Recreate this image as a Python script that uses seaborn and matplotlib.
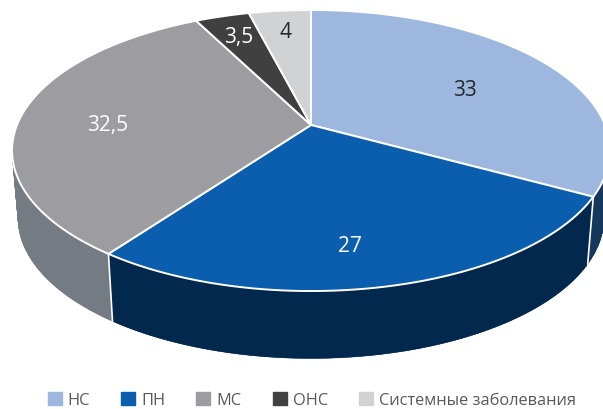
import numpy as np
import matplotlib.pyplot as plt
import seaborn as sns
from matplotlib.collections import PolyCollection
from matplotlib.patches import Patch

# данные
categories = ['НС', 'ПН', 'МС', 'ОНС', 'Системные заболевания']
values = [33, 27, 32.5, 3.5, 4]
value_labels = ['33', '27', '32,5', '3,5', '4']

top_colors = ['#9DB7DF', '#0A5EAD', '#9D9DA1', '#404040', '#D1D2D3']
side_colors = ['#15385C', '#02284E', '#747B82', '#2B2B2B', '#8C8D8E']
label_colors = ['#262626', 'white', 'white', 'white', '#262626']
label_pos = [(465, 90), (350, 247), (108, 125), (239, 38), (285, 33)]

sns.set_theme(style='white')
plt.rcParams['font.family'] = ['Open Sans', 'DejaVu Sans']

fig, ax = plt.subplots(figsize=(6.03, 4.10), dpi=100)
ax.set_position([0, 0, 1, 1])
ax.set_xlim(0, 603)
ax.set_ylim(410, 0)
ax.axis('off')


# круг в перспективе: угол по часовой от верха -> пиксели
def project(a, dy=0.0, scale=1.0):
    u, v = np.sin(a), np.cos(a)
    w = 1 + 0.1815 * v
    return 311 + 294 * scale * u / w, 126 + dy - 135.9 * v / w


edges = np.radians(np.r_[0, np.cumsum(values)] * 3.6)
DY, SC = 67.4, 0.98

# боковая стенка
for i in range(len(values)):
    t = np.linspace(edges[i], edges[i + 1], 120)
    x1, y1 = project(t)
    x2, y2 = project(t, DY, SC)
    ax.fill(np.r_[x1, x2[::-1]], np.r_[y1, y2[::-1]], color=side_colors[i], lw=0)
    quads = [[(x1[j], y1[j]), (x1[j + 1], y1[j + 1]), (x2[j + 1], y2[j + 1]), (x2[j], y2[j])]
             for j in range(len(t) - 1)]
    ax.add_collection(PolyCollection(quads, facecolors=side_colors[i],
                                     edgecolors=side_colors[i], linewidths=0.3))

# белые разделители стенок
for a in edges[1:3]:
    x1, y1 = project(a)
    x2, y2 = project(a, DY, SC)
    ax.plot([x1, x2], [y1, y2], color='white', lw=1.2, zorder=3)

# верхняя грань
for i in range(len(values)):
    t = np.linspace(edges[i], edges[i + 1], 120)
    x, y = project(t)
    ax.fill(np.r_[311, x], np.r_[126, y], color=top_colors[i], ec='white', lw=1.4,
            joinstyle='miter', zorder=4)

for lab, pos, col in zip(value_labels, label_pos, label_colors):
    ax.text(pos[0], pos[1], lab, color=col, fontsize=15, ha='center', va='center', zorder=5)

handles = [Patch(color=c, label=n) for c, n in zip(top_colors, categories)]
ax.legend(handles=handles, ncol=5, frameon=False, loc='center', bbox_to_anchor=(0.517, 0.021),
          fontsize=11.8, labelcolor='#595959', handlelength=0.85, handleheight=0.85,
          handletextpad=0.37, columnspacing=1.9, borderpad=0, borderaxespad=0)

fig.savefig('out.png', dpi=100)
